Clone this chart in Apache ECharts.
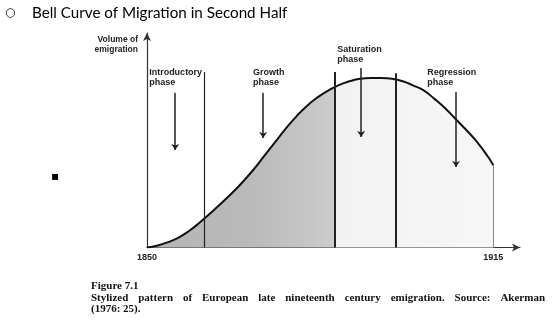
<!DOCTYPE html>
<html>
<head>
<meta charset="utf-8">
<script src="https://cdn.jsdelivr.net/npm/echarts@6/dist/echarts.min.js"></script>
<style>
  html, body { margin: 0; padding: 0; background: #fff; }
  #main { width: 554px; height: 322px; }
</style>
</head>
<body>
<div id="main"></div>
<script>
// stylized emigration curve (peak = 100)
const years = [1850, 1852, 1854, 1856, 1858, 1860, 1862, 1864, 1866, 1868, 1870, 1872, 1874, 1876, 1878,
  1880, 1882, 1884, 1886, 1888, 1890, 1892, 1894, 1896, 1898, 1900, 1902, 1904, 1906, 1908, 1910, 1912, 1914, 1915]
const volume = [0, 1.2, 3.2, 6, 10, 15, 20.5, 26.3, 32.3, 38.8, 46, 54, 62, 70, 77.2,
  83.5, 88.5, 92.5, 95.8, 98, 99.5, 100, 100, 99.5, 98, 95.5, 92.5, 87.5, 82, 75.5, 69, 62, 53.5, 48.5]

// phase boundaries (year, top of line)
const phaseLineYears = [1860.7, 1885.2, 1896.6]
const phaseLineTops = [103.5, 103.5, 102.8]
const endYear = 1915
const endVolume = 48.5

// phase arrows: year, start, end
const phaseNames = ['Introductory\nphase', 'Growth\nphase', 'Saturation\nphase', 'Regression\nphase']
const arrowYears = [1855.3, 1871.8, 1890.2, 1908]
const arrowFrom = [91.2, 91.2, 105.9, 91.7]
const arrowTo = [57.5, 64.6, 65.2, 47.5]
const labelYears = [1850.4, 1869.9, 1885.7, 1902.6]
const labelLevels = [100, 100, 113.9, 100]

const xTicks = [1850, 1915]

const captionHead = 'Figure 7.1'
const captionLine = 'Stylized pattern of European late nineteenth century emigration. Source: Akerman'
const captionTail = '(1976: 25).'

const myChart = echarts.init(document.getElementById('main'))

const captionFont = 'bold 11px "Liberation Serif"'
// spread words over the line like the justified print
function justify(text, x0, x1, y) {
    const ctx = document.createElement('canvas').getContext('2d')
    ctx.font = captionFont
    const words = text.split(' ')
    const widths = words.map(w => ctx.measureText(w).width)
    const sum = widths.reduce((a, b) => a + b, 0)
    const gap = (x1 - x0 - sum) / (words.length - 1)
    let x = x0
    return words.map((w, i) => {
        const el = { type: 'text', x: x, y: y, silent: true,
            style: { text: w, font: captionFont, fill: '#111', verticalAlign: 'middle' } }
        x += widths[i] + gap
        return el
    })
}

const phaseLines = phaseLineYears.map((yr, i) => [
    { coord: [yr, 0], lineStyle: { width: i === 0 ? 1.2 : 2, color: '#222' } },
    { coord: [yr, phaseLineTops[i]] }
])
phaseLines.push([
    { coord: [endYear, 0], lineStyle: { width: 1, color: '#888' } },
    { coord: [endYear, endVolume] }
])

const arrows = arrowYears.map((yr, i) => [
    { coord: [yr, arrowFrom[i]] },
    { coord: [yr, arrowTo[i]] }
])

const labels = phaseNames.map((name, i) => ({ name: name, coord: [labelYears[i], labelLevels[i]] }))

let option = {
    animation: false,
    grid: { left: 147, right: 34, top: 33, bottom: 74.5, containLabel: false, outerBoundsMode: 'none' },
    xAxis: {
        type: 'value',
        min: 1850,
        max: 1920,
        axisLine: {
            symbol: ['none', 'arrow'],
            symbolSize: [6, 8],
            lineStyle: { color: '#333', width: 1.2 }
        },
        axisTick: { show: false },
        splitLine: { show: false },
        axisLabel: {
            customValues: xTicks,
            formatter: v => String(v),
            fontSize: 9,
            fontWeight: 'bold',
            fontFamily: 'Liberation Sans',
            color: '#222',
            margin: 6
        }
    },
    yAxis: {
        type: 'value',
        min: 0,
        max: 126.5,
        name: 'Volume of\nemigration',
        nameLocation: 'end',
        nameGap: -2,
        nameTextStyle: {
            fontSize: 8.5,
            fontWeight: 'bold',
            fontFamily: 'Liberation Sans',
            color: '#222',
            align: 'right',
            verticalAlign: 'top',
            lineHeight: 10,
            padding: [0, 9, 0, 0]
        },
        axisLine: {
            show: true,
            symbol: ['none', 'arrow'],
            symbolSize: [6, 8],
            lineStyle: { color: '#333', width: 1.2 }
        },
        axisTick: { show: false },
        axisLabel: { show: false },
        splitLine: { show: false }
    },
    series: [{
        type: 'line',
        data: years.map((yr, i) => [yr, volume[i]]),
        smooth: 0.5,
        showSymbol: false,
        silent: true,
        lineStyle: { color: '#111', width: 2 },
        areaStyle: {
            opacity: 1,
            color: new echarts.graphic.LinearGradient(0, 0, 1, 0, [
                { offset: 0, color: '#b4b4b4' },
                { offset: 0.3, color: '#bababa' },
                { offset: 0.45, color: '#c4c4c4' },
                { offset: 0.54, color: '#cdcdcd' },
                { offset: 0.545, color: '#f2f2f2' },
                { offset: 1, color: '#f7f7f7' }
            ])
        },
        markLine: {
            silent: true,
            symbol: ['none', 'none'],
            label: { show: false },
            lineStyle: { type: 'solid' },
            data: phaseLines
        }
    }, {
        type: 'line',
        data: [],
        silent: true,
        markLine: {
            silent: true,
            symbol: ['none', 'arrow'],
            symbolSize: 6,
            label: { show: false },
            lineStyle: { type: 'solid', color: '#222', width: 1.5 },
            data: arrows
        },
        markPoint: {
            silent: true,
            symbolSize: 0,
            label: {
                show: true,
                position: 'right',
                distance: 0,
                formatter: '{b}',
                fontSize: 9,
                fontWeight: 'bold',
                fontFamily: 'Liberation Sans',
                color: '#222',
                lineHeight: 10
            },
            data: labels
        }
    }],
    graphic: [
        { type: 'text', x: 5, y: 13, silent: true,
          style: { text: '○', font: '12px "DejaVu Sans"', fill: '#000', verticalAlign: 'middle' } },
        { type: 'text', x: 32, y: 13, silent: true,
          style: { text: 'Bell Curve of Migration in Second Half', font: '15.2px Lato', fill: '#000', verticalAlign: 'middle' } },
        { type: 'text', x: 51, y: 177, silent: true,
          style: { text: '▪', font: '12px "DejaVu Sans"', fill: '#000', verticalAlign: 'middle' } },
        { type: 'text', x: 91, y: 286, silent: true,
          style: { text: captionHead, font: captionFont, fill: '#111', verticalAlign: 'middle' } },
        ...justify(captionLine, 91, 545, 298),
        { type: 'text', x: 91, y: 309, silent: true,
          style: { text: captionTail, font: captionFont, fill: '#111', verticalAlign: 'middle' } }
    ]
}

myChart.setOption(option)
</script>
</body>
</html>
